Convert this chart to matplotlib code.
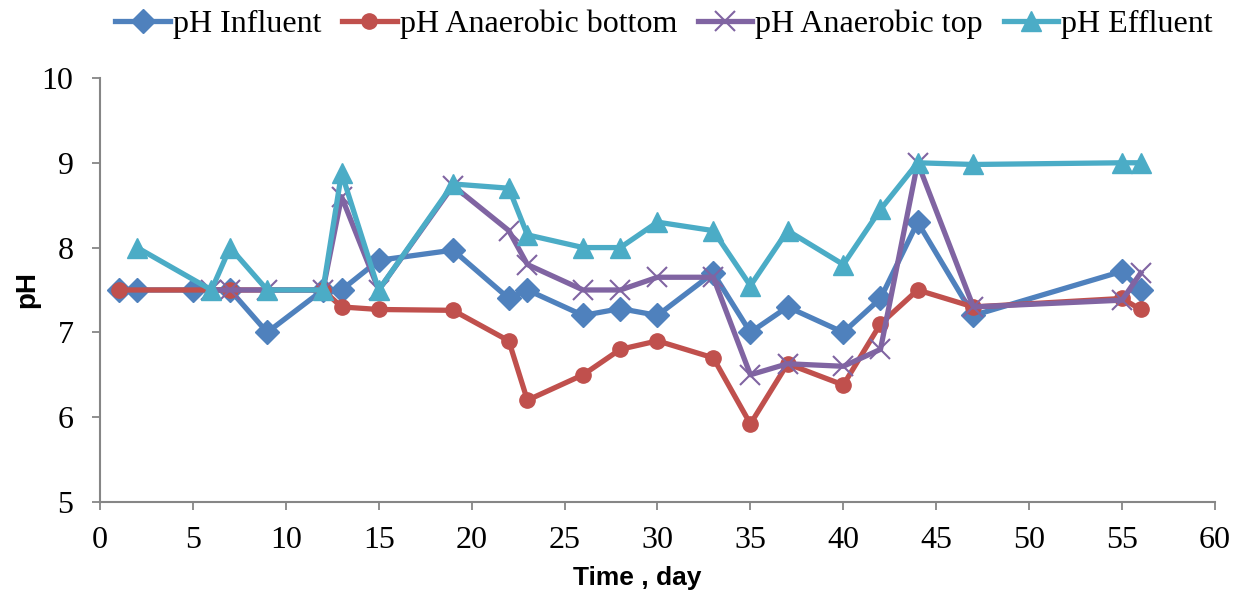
import matplotlib
matplotlib.use('Agg')
from matplotlib import pyplot as plt

# pH readings per sampling day
influent_days = [1, 2, 5, 7, 9, 12, 13, 15, 19, 22, 23, 26, 28, 30, 33, 35, 37, 40, 42, 44, 47, 55, 56]
influent_ph = [7.5, 7.5, 7.5, 7.5, 7.0, 7.5, 7.5, 7.85, 7.97, 7.4, 7.5, 7.2, 7.28, 7.2, 7.7, 7.0, 7.3, 7.0, 7.4, 8.3, 7.2, 7.72, 7.5]

bottom_days = [1, 7, 12, 13, 15, 19, 22, 23, 26, 28, 30, 33, 35, 37, 40, 42, 44, 47, 55, 56]
bottom_ph = [7.5, 7.5, 7.5, 7.3, 7.27, 7.26, 6.9, 6.2, 6.5, 6.8, 6.9, 6.7, 5.92, 6.63, 6.38, 7.1, 7.5, 7.3, 7.4, 7.27]

top_days = [6, 7, 9, 12, 13, 15, 19, 22, 23, 26, 28, 30, 33, 35, 37, 40, 42, 44, 47, 55, 56]
top_ph = [7.5, 7.5, 7.5, 7.5, 8.6, 7.5, 8.73, 8.2, 7.8, 7.5, 7.5, 7.65, 7.65, 6.5, 6.63, 6.6, 6.8, 9.0, 7.3, 7.38, 7.7]

effluent_days = [2, 6, 7, 9, 12, 13, 15, 19, 22, 23, 26, 28, 30, 33, 35, 37, 40, 42, 44, 47, 55, 56]
effluent_ph = [8.0, 7.5, 8.0, 7.5, 7.5, 8.88, 7.5, 8.75, 8.7, 8.15, 8.0, 8.0, 8.3, 8.2, 7.55, 8.2, 7.8, 8.45, 9.0, 8.98, 9.0, 9.0]

x_ticks = list(range(0, 61, 5))
y_ticks = [5, 6, 7, 8, 9, 10]

serif = 'Liberation Serif'
axis_gray = '#868686'


def main():
    fig = plt.figure(figsize=(12.34, 5.93), dpi=100)
    ax = fig.add_axes([0.081, 0.1535, 0.9036, 0.715])

    ax.plot(influent_days, influent_ph, color='#4F81BD', lw=3.8, marker='D', ms=12.5,
            label='pH Influent')
    ax.plot(bottom_days, bottom_ph, color='#C0504D', lw=3.8, marker='o', ms=11,
            label='pH Anaerobic bottom')
    ax.plot(top_days, top_ph, color='#8064A2', lw=3.8, marker='x', ms=14, mew=1.5,
            label='pH Anaerobic top')
    ax.plot(effluent_days, effluent_ph, color='#4BACC6', lw=3.8, marker='^', ms=15,
            label='pH Effluent')

    ax.set_xlim(0, 60)
    ax.set_ylim(5, 10)
    ax.set_xticks(x_ticks)
    ax.set_yticks(y_ticks)
    ax.set_xticklabels([str(t) for t in x_ticks], fontfamily=serif, fontsize=23)
    ax.set_yticklabels([str(t) for t in y_ticks], fontfamily=serif, fontsize=23)
    ax.tick_params(direction='out', length=6, width=1.3, color=axis_gray)
    ax.tick_params(axis='x', pad=11)
    ax.tick_params(axis='y', pad=13)

    for side in ['top', 'right']:
        ax.spines[side].set_visible(False)
    for side in ['left', 'bottom']:
        ax.spines[side].set_color(axis_gray)
        ax.spines[side].set_linewidth(1.5)

    ax.set_xlabel('Time , day', fontfamily='Liberation Sans', fontweight='bold', fontsize=19)
    ax.xaxis.set_label_coords(0.482, -0.150)
    ax.set_ylabel('pH', fontfamily='Liberation Sans', fontweight='bold', fontsize=20)
    ax.yaxis.set_label_coords(-0.054, 0.5)

    ax.legend(loc='lower center', bbox_to_anchor=(0.506, 1.061), ncol=4, frameon=False,
              prop={'family': serif, 'size': 23}, handlelength=1.7,
              handletextpad=0.1, columnspacing=0.65, borderaxespad=0)

    fig.savefig('out.png', dpi=100)


if __name__ == '__main__':
    main()
